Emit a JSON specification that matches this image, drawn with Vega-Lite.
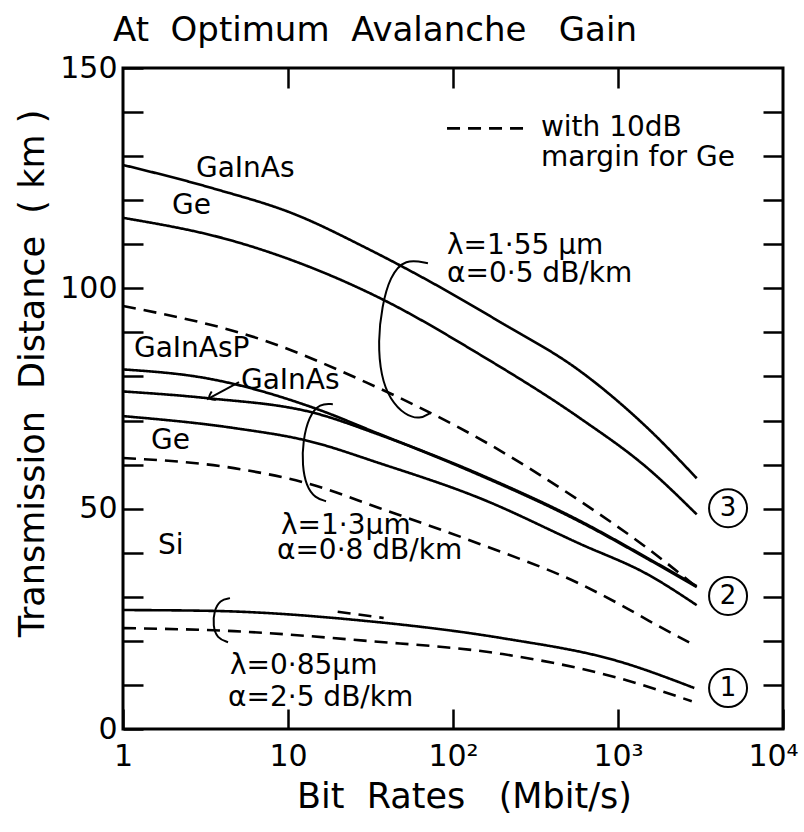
{
  "$schema": "https://vega.github.io/schema/vega-lite/v6.json",
  "width": 660,
  "height": 661,
  "autosize": "none",
  "padding": {"left": 123, "top": 68, "right": 21, "bottom": 103},
  "background": "white",
  "config": {"view": {"stroke": "black", "strokeWidth": 3}, "font": "DejaVu Sans"},
  "title": {"text": "At\u00a0 Optimum\u00a0 Avalanche\u00a0\u00a0 Gain", "anchor": "start", "frame": "group", "dx": -10, "offset": 5, "font": "DejaVu Sans", "fontSize": 34, "fontWeight": "normal", "color": "black"},
  "datasets": {
    "curves": [
      {"series": "1.55 GaInAs", "style": "solid", "x": 1, "y": 128},
      {"series": "1.55 GaInAs", "style": "solid", "x": 3.5, "y": 122.7},
      {"series": "1.55 GaInAs", "style": "solid", "x": 11, "y": 116.8},
      {"series": "1.55 GaInAs", "style": "solid", "x": 30, "y": 109.1},
      {"series": "1.55 GaInAs", "style": "solid", "x": 72, "y": 101.6},
      {"series": "1.55 GaInAs", "style": "solid", "x": 190, "y": 92.5},
      {"series": "1.55 GaInAs", "style": "solid", "x": 590, "y": 81.2},
      {"series": "1.55 GaInAs", "style": "solid", "x": 1510, "y": 68.3},
      {"series": "1.55 GaInAs", "style": "solid", "x": 3000, "y": 56.9},
      {"series": "1.55 Ge", "style": "solid", "x": 1, "y": 116},
      {"series": "1.55 Ge", "style": "solid", "x": 4.7, "y": 110.7},
      {"series": "1.55 Ge", "style": "solid", "x": 36, "y": 97.8},
      {"series": "1.55 Ge", "style": "solid", "x": 145, "y": 85.0},
      {"series": "1.55 Ge", "style": "solid", "x": 590, "y": 70.5},
      {"series": "1.55 Ge", "style": "solid", "x": 1510, "y": 59.2},
      {"series": "1.55 Ge", "style": "solid", "x": 3000, "y": 48.7},
      {"series": "1.55 Ge margin", "style": "dashed", "x": 1, "y": 96},
      {"series": "1.55 Ge margin", "style": "dashed", "x": 7.4, "y": 88.0},
      {"series": "1.55 Ge margin", "style": "dashed", "x": 30, "y": 78.6},
      {"series": "1.55 Ge margin", "style": "dashed", "x": 166, "y": 64.6},
      {"series": "1.55 Ge margin", "style": "dashed", "x": 590, "y": 51.7},
      {"series": "1.55 Ge margin", "style": "dashed", "x": 1510, "y": 41.0},
      {"series": "1.55 Ge margin", "style": "dashed", "x": 3000, "y": 32.2},
      {"series": "1.3 GaInAsP", "style": "solid", "x": 1, "y": 81.6},
      {"series": "1.3 GaInAsP", "style": "solid", "x": 3.2, "y": 79.6},
      {"series": "1.3 GaInAsP", "style": "solid", "x": 14.5, "y": 72.8},
      {"series": "1.3 GaInAsP", "style": "solid", "x": 35, "y": 67.1},
      {"series": "1.3 GaInAsP", "style": "solid", "x": 145, "y": 57.8},
      {"series": "1.3 GaInAsP", "style": "solid", "x": 590, "y": 47.2},
      {"series": "1.3 GaInAsP", "style": "solid", "x": 1510, "y": 38.8},
      {"series": "1.3 GaInAsP", "style": "solid", "x": 3000, "y": 32.4},
      {"series": "1.3 GaInAs", "style": "solid", "x": 1, "y": 76.6},
      {"series": "1.3 GaInAs", "style": "solid", "x": 3.2, "y": 75.1},
      {"series": "1.3 GaInAs", "style": "solid", "x": 14.5, "y": 71.7},
      {"series": "1.3 GaInAs", "style": "solid", "x": 35, "y": 66.9},
      {"series": "1.3 GaInAs", "style": "solid", "x": 145, "y": 57.6},
      {"series": "1.3 GaInAs", "style": "solid", "x": 590, "y": 47.0},
      {"series": "1.3 GaInAs", "style": "solid", "x": 1510, "y": 38.6},
      {"series": "1.3 GaInAs", "style": "solid", "x": 3000, "y": 32.2},
      {"series": "1.3 Ge", "style": "solid", "x": 1, "y": 71.0},
      {"series": "1.3 Ge", "style": "solid", "x": 4.7, "y": 68.3},
      {"series": "1.3 Ge", "style": "solid", "x": 13.5, "y": 65.3},
      {"series": "1.3 Ge", "style": "solid", "x": 36, "y": 60.3},
      {"series": "1.3 Ge", "style": "solid", "x": 145, "y": 52.4},
      {"series": "1.3 Ge", "style": "solid", "x": 590, "y": 42.0},
      {"series": "1.3 Ge", "style": "solid", "x": 1510, "y": 35.1},
      {"series": "1.3 Ge", "style": "solid", "x": 3000, "y": 28.1},
      {"series": "1.3 Ge margin", "style": "dashed", "x": 1, "y": 61.5},
      {"series": "1.3 Ge margin", "style": "dashed", "x": 4.7, "y": 59.2},
      {"series": "1.3 Ge margin", "style": "dashed", "x": 13.5, "y": 55.6},
      {"series": "1.3 Ge margin", "style": "dashed", "x": 36, "y": 50.1},
      {"series": "1.3 Ge margin", "style": "dashed", "x": 145, "y": 42.0},
      {"series": "1.3 Ge margin", "style": "dashed", "x": 590, "y": 32.9},
      {"series": "1.3 Ge margin", "style": "dashed", "x": 1070, "y": 27.9},
      {"series": "1.3 Ge margin", "style": "dashed", "x": 1550, "y": 24.5},
      {"series": "1.3 Ge margin", "style": "dashed", "x": 2750, "y": 19.5},
      {"series": "0.85 Si", "style": "solid", "x": 1, "y": 27.0},
      {"series": "0.85 Si", "style": "solid", "x": 3.5, "y": 26.8},
      {"series": "0.85 Si", "style": "solid", "x": 30, "y": 24.5},
      {"series": "0.85 Si", "style": "solid", "x": 200, "y": 20.6},
      {"series": "0.85 Si", "style": "solid", "x": 1000, "y": 15.4},
      {"series": "0.85 Si", "style": "solid", "x": 2900, "y": 9.3},
      {"series": "0.85 Si margin", "style": "dashed", "x": 1, "y": 22.9},
      {"series": "0.85 Si margin", "style": "dashed", "x": 4.7, "y": 22.2},
      {"series": "0.85 Si margin", "style": "dashed", "x": 30, "y": 20.0},
      {"series": "0.85 Si margin", "style": "dashed", "x": 200, "y": 17.0},
      {"series": "0.85 Si margin", "style": "dashed", "x": 1000, "y": 11.6},
      {"series": "0.85 Si margin", "style": "dashed", "x": 2800, "y": 6.3},
      {"series": "stray", "style": "dashed", "x": 20, "y": 26.6},
      {"series": "stray", "style": "dashed", "x": 38, "y": 25.2},
      {"series": "legend", "style": "dashed", "x": 92, "y": 136.3},
      {"series": "legend", "style": "dashed", "x": 281, "y": 136.3}
    ],
    "brackets": [
      {"series": "b155", "i": 1, "x": 70.5, "y": 105.7},
      {"series": "b155", "i": 2, "x": 51.2, "y": 106.8},
      {"series": "b155", "i": 3, "x": 41.5, "y": 102.7},
      {"series": "b155", "i": 4, "x": 37.1, "y": 95.9},
      {"series": "b155", "i": 5, "x": 35.1, "y": 88.0},
      {"series": "b155", "i": 6, "x": 36.6, "y": 80.0},
      {"series": "b155", "i": 7, "x": 41.5, "y": 74.8},
      {"series": "b155", "i": 8, "x": 51.2, "y": 71.2},
      {"series": "b155", "i": 9, "x": 63.1, "y": 70.3},
      {"series": "b155", "i": 10, "x": 72.6, "y": 71.7},
      {"series": "b13", "i": 1, "x": 18.7, "y": 73.7},
      {"series": "b13", "i": 2, "x": 15.6, "y": 73.9},
      {"series": "b13", "i": 3, "x": 13.4, "y": 71.0},
      {"series": "b13", "i": 4, "x": 12.3, "y": 65.3},
      {"series": "b13", "i": 5, "x": 12.2, "y": 59.9},
      {"series": "b13", "i": 6, "x": 12.9, "y": 55.1},
      {"series": "b13", "i": 7, "x": 14.6, "y": 52.4},
      {"series": "b13", "i": 8, "x": 17.0, "y": 51.7},
      {"series": "b085", "i": 1, "x": 4.45, "y": 29.7},
      {"series": "b085", "i": 2, "x": 3.87, "y": 29.3},
      {"series": "b085", "i": 3, "x": 3.56, "y": 26.8},
      {"series": "b085", "i": 4, "x": 3.51, "y": 23.4},
      {"series": "b085", "i": 5, "x": 3.71, "y": 20.6},
      {"series": "b085", "i": 6, "x": 4.33, "y": 19.7},
      {"series": "leader", "i": 1, "x": 5.05, "y": 78.7},
      {"series": "leader", "i": 2, "x": 3.23, "y": 74.8},
      {"series": "arrow", "i": 1, "x": 3.66, "y": 74.7},
      {"series": "arrow", "i": 2, "x": 3.23, "y": 74.8},
      {"series": "arrow", "i": 3, "x": 3.45, "y": 76.6}
    ],
    "labels": [
      {"x": 2.77, "y": 127.0, "label": "GaInAs"},
      {"x": 1.98, "y": 118.6, "label": "Ge"},
      {"x": 92, "y": 109.5, "label": "λ=1·55 µm"},
      {"x": 92, "y": 103.2, "label": "α=0·5 dB/km"},
      {"x": 341, "y": 136.3, "label": "with 10dB"},
      {"x": 341, "y": 129.5, "label": "margin for Ge"},
      {"x": 1.166, "y": 86.2, "label": "GaInAsP"},
      {"x": 5.19, "y": 78.9, "label": "GaInAs"},
      {"x": 1.48, "y": 65.3, "label": "Ge"},
      {"x": 9.07, "y": 46.0, "label": "λ=1·3µm"},
      {"x": 8.57, "y": 40.4, "label": "α=0·8 dB/km"},
      {"x": 1.63, "y": 41.5, "label": "Si"},
      {"x": 4.45, "y": 14.3, "label": "λ=0·85µm"},
      {"x": 4.33, "y": 7.0, "label": "α=2·5 dB/km"}
    ],
    "circled": [
      {"x": 4645, "y": 50.1, "n": "3"},
      {"x": 4645, "y": 30.2, "n": "2"},
      {"x": 4645, "y": 9.3, "n": "1"}
    ]
  },
  "layer": [
    {
      "data": {"name": "curves"},
      "mark": {"type": "line", "color": "black", "strokeWidth": 2.6, "interpolate": "monotone"},
      "encoding": {
        "x": {"field": "x", "type": "quantitative", "scale": {"type": "log", "domain": [1, 10000]},
          "axis": {"orient": "bottom", "values": [1, 10, 100, 1000, 10000],
            "labelExpr": "datum.value == 1 ? '1' : datum.value == 10 ? '10' : datum.value == 100 ? '10²' : datum.value == 1000 ? '10³' : '10⁴'",
            "labelOffset": {"condition": {"test": "datum.value == 10000", "value": -10}, "value": 0},
            "tickSize": -20, "tickWidth": 2.5, "tickColor": "black", "domain": false, "grid": false,
            "labelFont": "DejaVu Sans", "labelFontSize": 30, "labelColor": "black", "labelPadding": 32, "labelFlush": false, "labelOverlap": false, "labelBaseline": "top",
            "title": "Bit\u00a0 Rates\u00a0\u00a0 (Mbit/s)", "titleFont": "DejaVu Sans", "titleFontSize": 35, "titleFontWeight": "normal", "titleColor": "black",
            "titleX": 341, "titleY": 78, "titleAlign": "center", "titleBaseline": "alphabetic"}},
        "y": {"field": "y", "type": "quantitative", "scale": {"domain": [0, 150]},
          "axis": {"orient": "left", "values": [0, 10, 20, 30, 40, 50, 60, 70, 80, 90, 100, 110, 120, 130, 140, 150],
            "labelExpr": "datum.value % 50 == 0 ? datum.label : ''",
            "tickSize": -20, "tickWidth": 2.5, "tickColor": "black", "domain": false, "grid": false,
            "labelFont": "DejaVu Sans", "labelFontSize": 30, "labelColor": "black", "labelPadding": 26, "labelOverlap": false,
            "title": "Transmission\u00a0 Distance\u00a0 (\u00a0km\u00a0)", "titleFont": "DejaVu Sans", "titleFontSize": 35, "titleFontWeight": "normal", "titleColor": "black",
            "titleX": -80, "titleY": 305, "titleAlign": "center", "titleBaseline": "alphabetic"}},
        "detail": {"field": "series", "type": "nominal"},
        "strokeDash": {"field": "style", "type": "nominal", "scale": {"domain": ["solid", "dashed"], "range": [[1, 0], [13, 8]]}, "legend": null}
      }
    },
    {
      "data": {"name": "brackets"},
      "mark": {"type": "line", "color": "black", "strokeWidth": 2, "interpolate": "basis"},
      "encoding": {
        "x": {"field": "x", "type": "quantitative", "scale": {"type": "log", "domain": [1, 10000]}, "axis": null},
        "y": {"field": "y", "type": "quantitative", "scale": {"domain": [0, 150]}, "axis": null},
        "order": {"field": "i", "type": "quantitative"},
        "detail": {"field": "series", "type": "nominal"}
      }
    },
    {
      "data": {"name": "labels"},
      "mark": {"type": "text", "align": "left", "baseline": "middle", "font": "DejaVu Sans", "fontSize": 28, "color": "black"},
      "encoding": {
        "x": {"field": "x", "type": "quantitative", "scale": {"type": "log", "domain": [1, 10000]}, "axis": null},
        "y": {"field": "y", "type": "quantitative", "scale": {"domain": [0, 150]}, "axis": null},
        "text": {"field": "label", "type": "nominal"}
      }
    },
    {
      "data": {"name": "circled"},
      "mark": {"type": "point", "shape": "circle", "filled": false, "size": 1444, "strokeWidth": 2, "color": "black", "opacity": 1},
      "encoding": {
        "x": {"field": "x", "type": "quantitative", "scale": {"type": "log", "domain": [1, 10000]},
          "axis": {"orient": "top", "values": [10, 100, 1000], "labels": false, "tickSize": -20, "tickWidth": 2.5, "tickColor": "black", "domain": false, "grid": false, "title": null}},
        "y": {"field": "y", "type": "quantitative", "scale": {"domain": [0, 150]},
          "axis": {"orient": "right", "values": [10, 20, 30, 40, 50, 60, 70, 80, 90, 100, 110, 120, 130, 140], "labels": false, "tickSize": -20, "tickWidth": 2.5, "tickColor": "black", "domain": false, "grid": false, "title": null}}
      }
    },
    {
      "data": {"name": "circled"},
      "mark": {"type": "text", "align": "center", "baseline": "middle", "font": "DejaVu Sans", "fontSize": 26, "color": "black"},
      "encoding": {
        "x": {"field": "x", "type": "quantitative", "scale": {"type": "log", "domain": [1, 10000]}, "axis": null},
        "y": {"field": "y", "type": "quantitative", "scale": {"domain": [0, 150]}, "axis": null},
        "text": {"field": "n", "type": "nominal"}
      }
    }
  ],
  "resolve": {"axis": {"x": "independent", "y": "independent"}}
}
